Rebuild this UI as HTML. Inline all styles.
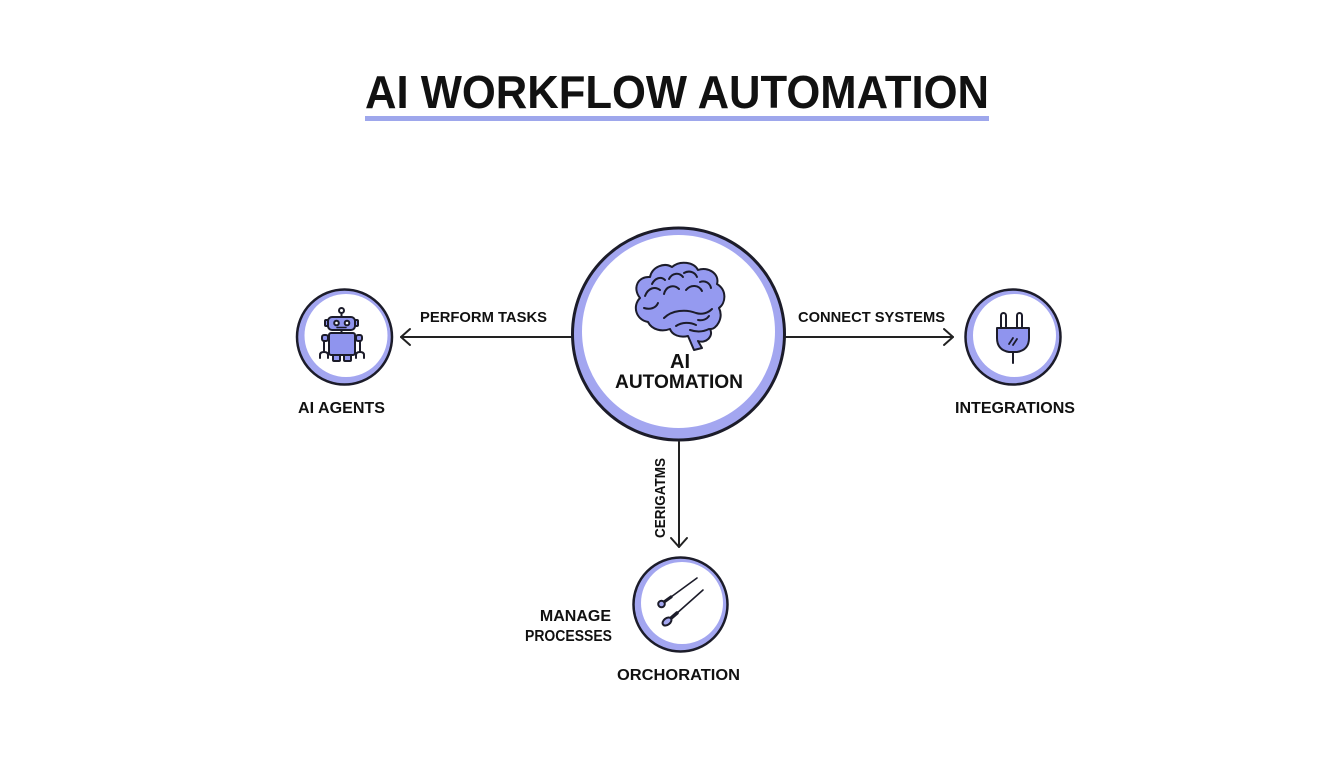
<!DOCTYPE html>
<html>
<head>
<meta charset="utf-8">
<style>
  html,body{margin:0;padding:0;background:#ffffff;}
  svg{display:block;}
  text{font-family:"Liberation Sans",sans-serif;font-weight:bold;fill:#111;}
</style>
</head>
<body>
<svg width="1344" height="768" viewBox="0 0 1344 768" xmlns="http://www.w3.org/2000/svg">
  <rect width="1344" height="768" fill="#ffffff"/>

  <!-- Title -->
  <text x="365" y="108" font-size="46" textLength="624" lengthAdjust="spacingAndGlyphs">AI WORKFLOW AUTOMATION</text>
  <rect x="365" y="116" width="624" height="5" fill="#9ea7ec"/>

  <!-- Connectors -->
  <g stroke="#222" stroke-width="2" fill="none" stroke-linecap="round" stroke-linejoin="round">
    <line x1="571" y1="337" x2="401" y2="337"/>
    <polyline points="410,329 401,337 410,345"/>
    <line x1="786" y1="337" x2="953" y2="337"/>
    <polyline points="944,329 953,337 944,345"/>
    <line x1="679" y1="442" x2="679" y2="547"/>
    <polyline points="671,538 679,547 687,538"/>
  </g>

  <!-- Central circle -->
  <circle cx="678.5" cy="334" r="106" fill="#a3a6f0" stroke="#1c1c2a" stroke-width="3"/>
  <circle cx="678.5" cy="331.5" r="96.5" fill="#ffffff"/>

  <!-- Brain -->
  <g stroke="#1c1c2a" stroke-width="2" stroke-linejoin="round" stroke-linecap="round">
    <path fill="#959af0" d="M648,322 C636,320 632,306 640,298 C632,288 638,276 650,277 C652,267 664,262 672,267 C680,260 694,262 698,270 C708,266 720,274 717,284 C727,290 726,303 719,308 C724,318 716,330 710,329 C714,336 706,344 698,341 L702,348 L694,350 L688,336 C680,338 672,335 670,329 C662,332 652,330 648,322 Z"/>
    <g fill="none">
      <path d="M645,296 c3,-8 10,-10 15,-6"/>
      <path d="M652,284 c3,-6 9,-8 13,-4"/>
      <path d="M664,294 c2,-8 10,-10 15,-5"/>
      <path d="M669,279 c3,-6 10,-7 14,-2"/>
      <path d="M684,273 c5,-3 11,-1 13,4"/>
      <path d="M686,290 c5,-6 13,-5 16,1"/>
      <path d="M700,282 c5,-2 10,1 11,6"/>
      <path d="M664,318 c8,-8 22,-9 32,-5 c6,2 12,0 16,-4"/>
      <path d="M676,326 c6,-4 14,-4 20,-1"/>
      <path d="M698,320 c5,1 9,-1 11,-4"/>
      <path d="M644,308 c6,2 12,0 14,-5"/>
      <path d="M690,330 c6,2 13,2 19,-1"/>
    </g>
  </g>
  <text x="680" y="368" font-size="20" text-anchor="middle">AI</text>
  <text x="615" y="388" font-size="19" textLength="128" lengthAdjust="spacingAndGlyphs">AUTOMATION</text>

  <!-- Left circle: AI Agents -->
  <circle cx="344.5" cy="337" r="47.5" fill="#a3a6f0" stroke="#1c1c2a" stroke-width="2.5"/>
  <circle cx="346" cy="335.5" r="41.5" fill="#ffffff"/>
  <g stroke="#1c1c2a" stroke-width="2" stroke-linejoin="round" stroke-linecap="round">
    <circle cx="341.5" cy="310.5" r="2.5" fill="#ffffff"/>
    <line x1="341.5" y1="313" x2="341.5" y2="317" fill="none"/>
    <rect x="325" y="320" width="4" height="6" rx="1" fill="#8f94ee"/>
    <rect x="354" y="320" width="4" height="6" rx="1" fill="#8f94ee"/>
    <rect x="328" y="317" width="27" height="13" rx="4" fill="#8f94ee"/>
    <circle cx="336.5" cy="323" r="2.3" fill="#ffffff"/>
    <circle cx="347" cy="323" r="2.3" fill="#ffffff"/>
    <line x1="337" y1="327.5" x2="346" y2="327.5" stroke-width="1.5"/>
    <line x1="341.5" y1="330" x2="341.5" y2="333"/>
    <rect x="329" y="333" width="26" height="22" rx="2" fill="#8f94ee"/>
    <rect x="322" y="335" width="6" height="6" rx="2" fill="#8f94ee"/>
    <rect x="356" y="335" width="6" height="6" rx="2" fill="#8f94ee"/>
    <line x1="324" y1="341" x2="324" y2="352" fill="none"/>
    <line x1="360" y1="341" x2="360" y2="352" fill="none"/>
    <path d="M320,358 v-3 q0,-3 4,-3 q4,0 4,3 v3" fill="none"/>
    <path d="M356,358 v-3 q0,-3 4,-3 q4,0 4,3 v3" fill="none"/>
    <rect x="333" y="355" width="7" height="6" rx="1" fill="#8f94ee"/>
    <rect x="344" y="355" width="7" height="6" rx="1" fill="#8f94ee"/>
  </g>
  <text x="298" y="413" font-size="16" textLength="87" lengthAdjust="spacingAndGlyphs">AI AGENTS</text>
  <text x="420" y="322" font-size="15" textLength="127" lengthAdjust="spacingAndGlyphs">PERFORM TASKS</text>

  <!-- Right circle: Integrations -->
  <circle cx="1013" cy="337" r="47.5" fill="#a3a6f0" stroke="#1c1c2a" stroke-width="2.5"/>
  <circle cx="1014.5" cy="335.5" r="41.5" fill="#ffffff"/>
  <g stroke="#1c1c2a" stroke-width="2" stroke-linejoin="round" stroke-linecap="round">
    <rect x="1001" y="313" width="5" height="16" rx="2.5" fill="#ffffff"/>
    <rect x="1017" y="313" width="5" height="16" rx="2.5" fill="#ffffff"/>
    <path d="M997,328 H1029 V338 Q1029,350 1017,352 H1009 Q997,350 997,338 Z" fill="#8f94ee"/>
    <line x1="1013" y1="352" x2="1013" y2="363"/>
    <line x1="1009" y1="344" x2="1013" y2="338" stroke-width="1.8"/>
    <line x1="1013" y1="345" x2="1017" y2="339" stroke-width="1.8"/>
  </g>
  <text x="798" y="322" font-size="15" textLength="147" lengthAdjust="spacingAndGlyphs">CONNECT SYSTEMS</text>
  <text x="955" y="413" font-size="16" textLength="120" lengthAdjust="spacingAndGlyphs">INTEGRATIONS</text>

  <!-- Bottom circle: Orchestration -->
  <circle cx="680.5" cy="604.5" r="47" fill="#a3a6f0" stroke="#1c1c2a" stroke-width="2.5"/>
  <circle cx="682" cy="603" r="41" fill="#ffffff"/>
  <g stroke="#1c1c2a" stroke-linecap="round" stroke-linejoin="round">
    <line x1="671" y1="597" x2="697" y2="578" stroke-width="1.6"/>
    <line x1="664" y1="602" x2="671" y2="597" stroke-width="3.2"/>
    <circle cx="661.5" cy="604" r="3.3" fill="#a3a6f0" stroke-width="2"/>
    <line x1="676" y1="614" x2="703" y2="590" stroke-width="1.6"/>
    <line x1="670" y1="619" x2="677" y2="613" stroke-width="3.5"/>
    <ellipse cx="667" cy="621.5" rx="5" ry="3.3" transform="rotate(-38 667 621.5)" fill="#a3a6f0" stroke-width="2"/>
  </g>
  <text transform="translate(665,538) rotate(-90)" x="0" y="0" font-size="15" textLength="80" lengthAdjust="spacingAndGlyphs">CERIGATMS</text>
  <text x="611" y="621" font-size="16" text-anchor="end">MANAGE</text>
  <text x="525" y="641" font-size="16" textLength="87" lengthAdjust="spacingAndGlyphs">PROCESSES</text>
  <text x="617" y="680" font-size="16" textLength="123" lengthAdjust="spacingAndGlyphs">ORCHORATION</text>
</svg>
</body>
</html>
